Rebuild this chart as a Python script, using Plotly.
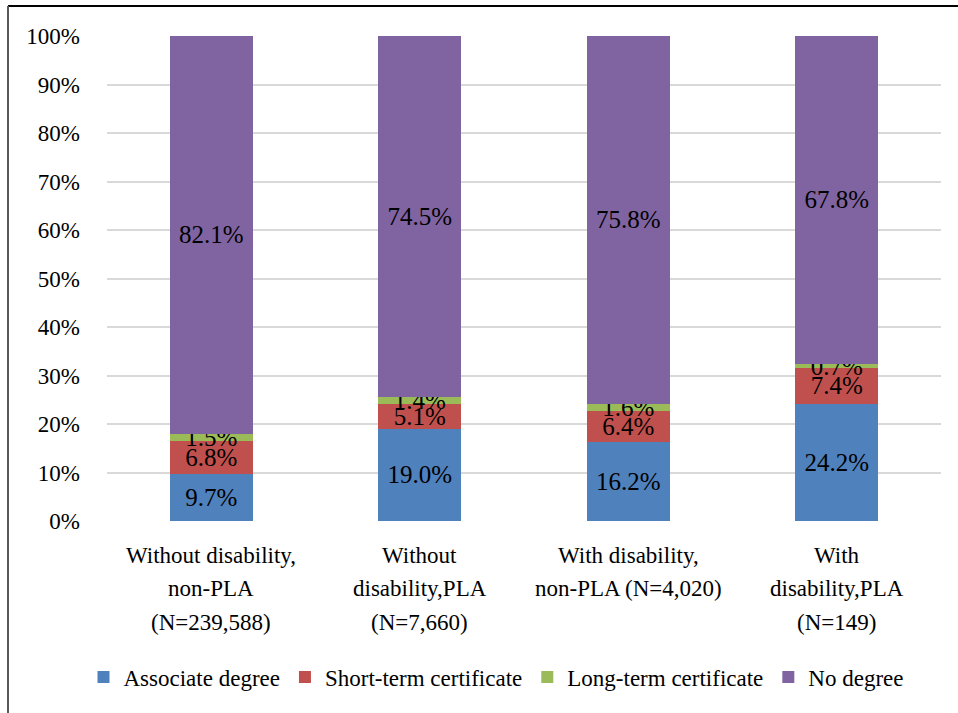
import plotly.graph_objects as go

# Groups (x-axis categories) and the lines of their axis labels
groups = [
    "Without disability, non-PLA (N=239,588)",
    "Without disability,PLA (N=7,660)",
    "With disability, non-PLA (N=4,020)",
    "With disability,PLA (N=149)",
]
group_label_lines = [
    ["Without disability,", "non-PLA", "(N=239,588)"],
    ["Without", "disability,PLA", "(N=7,660)"],
    ["With disability,", "non-PLA (N=4,020)"],
    ["With", "disability,PLA", "(N=149)"],
]

# Share of students (%) by outcome
associate = [9.7, 19.0, 16.2, 24.2]
short_term = [6.8, 5.1, 6.4, 7.4]
long_term = [1.5, 1.4, 1.6, 0.7]
no_degree = [82.1, 74.5, 75.8, 67.8]

series = [
    ("Associate degree", associate, "#4F81BD"),
    ("Short-term certificate", short_term, "#C0504D"),
    ("Long-term certificate", long_term, "#9BBB59"),
    ("No degree", no_degree, "#8064A2"),
]

y_ticks = list(range(0, 101, 10))

FONT = "Liberation Serif, Times New Roman, serif"

fig = go.Figure()
for name, vals, color in series:
    fig.add_trace(go.Bar(
        name=name,
        x=groups,
        y=vals,
        marker=dict(color=color, line=dict(width=0)),
        text=[f"{v:.1f}%" for v in vals],
        textposition="inside",
        insidetextanchor="middle",
        constraintext="none",
        textfont=dict(family=FONT, size=25, color="#000000"),
        hoverinfo="skip",
    ))

W, H = 958, 713
ML, MR, MT, MB = 107, 17, 36, 192
pw, ph = W - ML - MR, H - MT - MB

def px_x(px):
    return (px - ML) / pw

def px_y(py):
    return (H - MB - py) / ph

# Category labels, one annotation per line for wider line spacing
LINE_Y0, LINE_STEP = 555, 33.5
for g, lines in zip(groups, group_label_lines):
    for i, line in enumerate(lines):
        fig.add_annotation(
            x=g, xref="x", y=px_y(LINE_Y0 + i * LINE_STEP), yref="paper",
            text=line, showarrow=False, xanchor="center", yanchor="middle",
            font=dict(family=FONT, size=23, color="#000000"),
        )

fig.update_layout(
    width=W, height=H,
    margin=dict(l=ML, r=MR, t=MT, b=MB, autoexpand=False),
    barmode="stack",
    bargap=0.6,
    plot_bgcolor="white",
    paper_bgcolor="white",
    font=dict(family=FONT, size=23, color="#000000"),
    showlegend=True,
    legend=dict(
        orientation="h",
        x=px_x(496), xanchor="center",
        y=px_y(677), yanchor="middle",
        font=dict(family=FONT, size=23, color="#000000"),
        traceorder="normal",
        itemwidth=30,
    ),
    xaxis=dict(
        showgrid=False, showline=False, zeroline=False,
        ticks="", showticklabels=False,
    ),
    yaxis=dict(
        range=[0, 100],
        tickvals=y_ticks,
        ticktext=[f"{v}%" for v in y_ticks],
        showgrid=True, gridcolor="#D9D9D9", gridwidth=2,
        zeroline=False, showline=False, ticks="",
        ticklabelstandoff=26,
        tickfont=dict(size=23),
    ),
)

# Frame around the chart area (top and left edges)
fig.add_shape(type="line", xref="paper", yref="paper",
              x0=px_x(8), x1=px_x(W + 5), y0=px_y(6), y1=px_y(6),
              line=dict(color="#000000", width=2))
fig.add_shape(type="line", xref="paper", yref="paper",
              x0=px_x(8), x1=px_x(8), y0=px_y(6), y1=px_y(H + 5),
              line=dict(color="#595959", width=2))

fig.write_html("out.html")
